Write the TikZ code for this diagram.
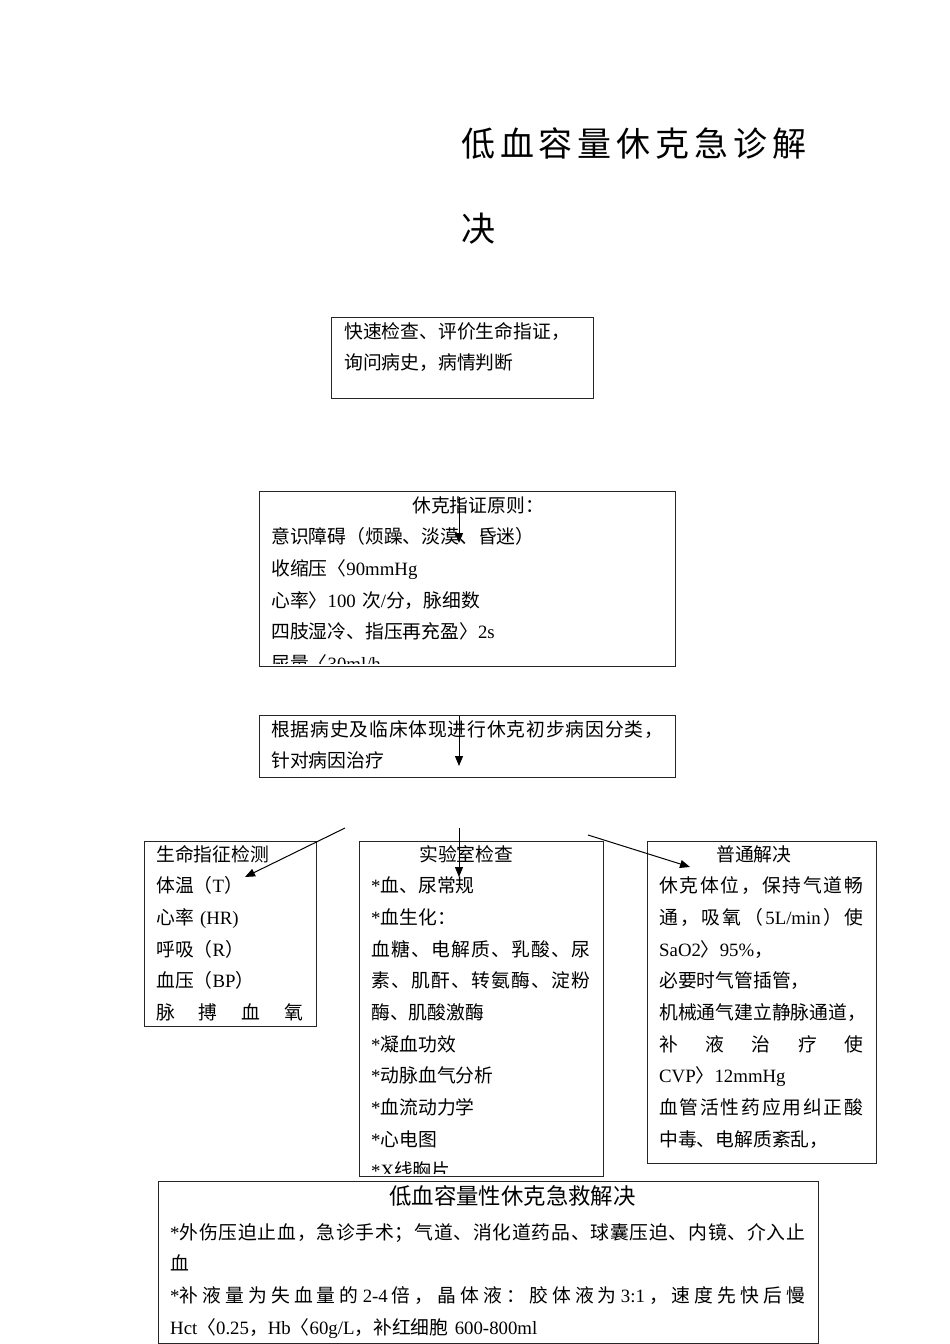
\documentclass[tikz,border=0pt]{standalone}
\usepackage{fontspec}
\usetikzlibrary{arrows.meta}
\setmainfont{Liberation Serif}
\newfontfamily\cjkfont{Noto Sans CJK SC}
% Chinese characters go to the CJK font, the rest stays in the main font
\XeTeXinterchartokenstate=1
\newXeTeXintercharclass\cjkclass
\newcommand\setcjkrange[2]{%
  \count255=#1
  \loop\XeTeXcharclass\count255=\cjkclass
    \advance\count255 by 1
  \ifnum\count255<#2 \repeat}
\setcjkrange{"3000}{"3040}
\setcjkrange{"4E00}{"A000}
\setcjkrange{"FF00}{"FFF0}
\XeTeXinterchartoks 0 \cjkclass = {\cjkfont}
\XeTeXinterchartoks 4095 \cjkclass = {\cjkfont}
\XeTeXinterchartoks \cjkclass 0 = {\rmfamily}
\XeTeXinterchartoks \cjkclass 4095 = {\rmfamily}
% a line spread out to the full width (spaces become fill glue)
\newcommand\fillline[2][\linewidth]{%
  \leavevmode\hbox to #1{\spaceskip=0pt plus 1fil\xspaceskip=0pt plus 1fil\relax #2}}
\tikzset{
    box/.style={
        draw=black!85,
        line width=1.2pt,
        inner sep=0pt,
        anchor=north west
    },
    txt/.style={
        inner sep=0pt,
        anchor=base west,
        align=left,
        font=\fontsize{18.8}{31.67}\selectfont
    },
    arr/.style={
        -{Triangle[length=10pt,width=8pt]},
        line width=1pt
    }
}
\begin{document}
\begin{tikzpicture}[x=1pt, y=-1pt]
\useasboundingbox (0,0) rectangle (950,1344);

% title
\node [txt, font=\fontsize{34}{85}\selectfont, text width=345pt] (title) at (461,156)
    {\fillline{低 血 容 量 休 克 急 诊 解}\\ 决};

% boxes
\node [box, minimum width=262pt, minimum height=81pt] (quick) at (331,317) {};
\node [box, minimum width=416pt, minimum height=175pt] (crit) at (259,491) {};
\node [box, minimum width=416pt, minimum height=62pt] (cause) at (259,715) {};
\node [box, minimum width=172pt, minimum height=185pt] (vital) at (144,841) {};
\node [box, minimum width=244pt, minimum height=335pt] (lab) at (359,841) {};
\node [box, minimum width=229pt, minimum height=322pt] (general) at (647,841) {};
\node [box, minimum width=660pt, minimum height=162pt] (rescue) at (158,1181) {};

% texts
\node [txt, text width=240pt] (quicktxt) at (344,338)
    {快速检查、评价生命指证，\\ 询问病史，病情判断};
\begin{scope}
    \clip ([yshift=4pt]crit.south west) rectangle (crit.north east);
    \node [txt, text width=400pt] (crittxt) at (271,512) {%
        \hspace{141pt}休克指证原则：\\
        意识障碍（烦躁、淡漠、昏迷）\\
        收缩压〈90mmHg\\
        心率〉100 次/分，脉细数\\
        四肢湿冷、指压再充盈〉2s\\
        尿量〈30ml/h};
\end{scope}
\node [txt, text width=392pt] (causetxt) at (271,736) {%
    \fillline{根 据 病 史 及 临 床 体 现 进 行 休 克 初 步 病 因 分 类 ，}\\
    针对病因治疗};
\node [txt, text width=147pt] (vitaltxt) at (156,861) {%
    生命指征检测\\
    体温（T）\\
    心率 (HR)\\
    呼吸（R）\\
    血压（BP）\\
    \fillline{脉 搏 血 氧}};
\begin{scope}
    \clip ([yshift=4pt]lab.south west) rectangle (lab.north east);
    \node [txt, text width=219pt] (labtxt) at (371,861) {%
        \hspace{48pt}实验室检查\\
        {*}血、尿常规\\
        {*}血生化：\\
        \fillline{血 糖 、 电 解 质 、 乳 酸 、 尿}\\
        \fillline{素 、 肌 酐 、 转 氨 酶 、 淀 粉}\\
        酶、肌酸激酶\\
        {*}凝血功效\\
        {*}动脉血气分析\\
        {*}血流动力学\\
        {*}心电图\\
        {*}X线胸片};
\end{scope}
\node [txt, text width=204pt] (generaltxt) at (659,861) {%
    \hspace{57pt}普通解决\\
    \fillline{休 克 体 位 ， 保 持 气 道 畅}\\
    \fillline{通 ， 吸 氧 （ 5L/min ） 使}\\
    SaO2〉95\%，\\
    必要时气管插管，\\
    机械通气建立静脉通道，\\
    \fillline{补 液 治 疗 使}\\
    CVP〉12mmHg\\
    \fillline{血 管 活 性 药 应 用 纠 正 酸}\\
    中毒、电解质紊乱，};
\node [txt, font=\fontsize{22.4}{30}\selectfont] (rescuetitle) at (389,1204)
    {低血容量性休克急救解决};
\node [txt, text width=635pt] (rescuetxt) at (170,1239) {%
    \fillline{*外 伤 压 迫 止 血 ， 急 诊 手 术 ； 气 道 、 消 化 道 药 品 、 球 囊 压 迫 、 内 镜 、 介 入 止}\\
    血\\
    \fillline{*补 液 量 为 失 血 量 的 2-4 倍 ， 晶 体 液 ： 胶 体 液 为 3:1 ， 速 度 先 快 后 慢}\\
    Hct〈0.25，Hb〈60g/L，补红细胞 600-800ml};

% arrows
\coordinate (crit-from) at (459,497);
\coordinate (crit-to) at (459,543);
\coordinate (cause-from) at (459,716);
\coordinate (cause-to) at (459,766);
\coordinate (vital-from) at (345,828);
\coordinate (vital-to) at (245,877);
\coordinate (lab-from) at (459,828);
\coordinate (lab-to) at (459,877);
\coordinate (general-from) at (588,835);
\coordinate (general-to) at (690,867);
\draw [arr] (crit-from) -- (crit-to);
\draw [arr] (cause-from) -- (cause-to);
\draw [arr] (vital-from) -- (vital-to);
\draw [arr] (lab-from) -- (lab-to);
\draw [arr] (general-from) -- (general-to);
\end{tikzpicture}
\end{document}
